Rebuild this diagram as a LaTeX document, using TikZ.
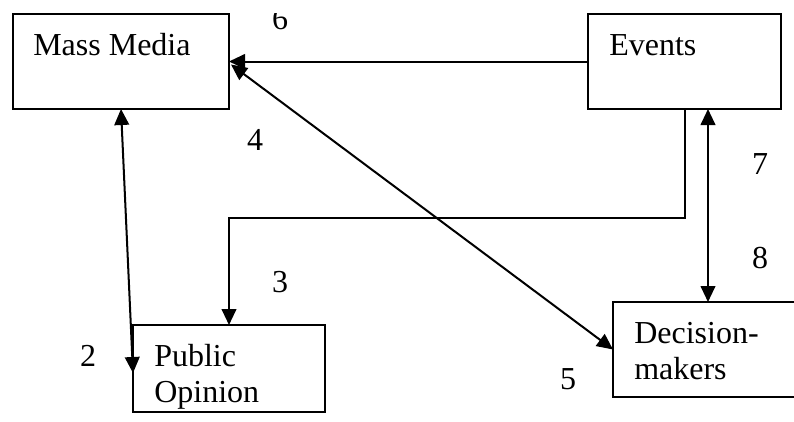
\documentclass[tikz,border=0pt]{standalone}
\usepackage{fontspec}
\setmainfont{Liberation Serif}
\usetikzlibrary{arrows.meta,calc,positioning}
\tikzset{
 ag box/.style={draw=black,line width=1.5pt,inner sep=0pt,outer sep=0pt},
 ag text/.style={anchor=base west,inner sep=0pt,align=left,
                 font=\fontsize{24}{27}\selectfont},
 ag num/.style={anchor=base,inner sep=0pt,font=\fontsize{24}{27}\selectfont},
 ag arrow/.style={line width=1.5pt,-{Triangle[length=12pt,width=11pt]}},
 ag both/.style={line width=1.5pt,
                 {Triangle[length=12pt,width=11pt]}-{Triangle[length=12pt,width=11pt]}}
}

\begin{document}
\begin{tikzpicture}[x=.75pt,y=-.75pt]
 \useasboundingbox (0,0) rectangle (794,422);
 \node[ag box,minimum width=162pt,minimum height=71.25pt] (media) at (121,61.5) {};
 \node[ag box,minimum width=144.75pt,minimum height=71.25pt] (events) at (684.5,61.5) {};
 \node[ag box,minimum width=144pt,minimum height=65.25pt] (public) at (229,368.5) {};
 \node[ag box,minimum width=142.5pt,minimum height=71.25pt] (decision) at (708,349.5) {};

 \node[ag text] (mediatext) at ($(media.north west)+(20,41)$) {Mass Media};
 \node[ag text] (eventstext) at ($(events.north west)+(21,41)$) {Events};
 \node[ag text] (publictext) at ($(public.north west)+(21,77)$) {Public\\Opinion};
 \node[ag text] (decisiontext) at ($(decision.north west)+(21,77)$) {Decision-\\makers};

 \draw[ag arrow] (events) -- (media);
 \draw[ag both] ([shift={(2,3)}]media.east) -- (decision.west);
 \draw[ag both] (media.south) -- ($(public.west)+(0,4.5)$);
 \draw[ag arrow] (events.south) -- ++(0,109) -| (public.north);
 \draw[ag both] (decision.north |- events.south) -- (decision.north);

 \begin{scope}
  \clip (250,13) rectangle (310,45);
  \node[ag num] (n6) at (280,29) {6};
 \end{scope}
 \node[ag num] (n4) at (255,150) {4};
 \node[ag num] (n7) at (760,174) {7};
 \node[ag num] (n8) at (760,268) {8};
 \node[ag num] (n3) at (280,292) {3};
 \node[ag num] (n2) at (88,366) {2};
 \node[ag num] (n5) at (568,389) {5};
\end{tikzpicture}
\end{document}
